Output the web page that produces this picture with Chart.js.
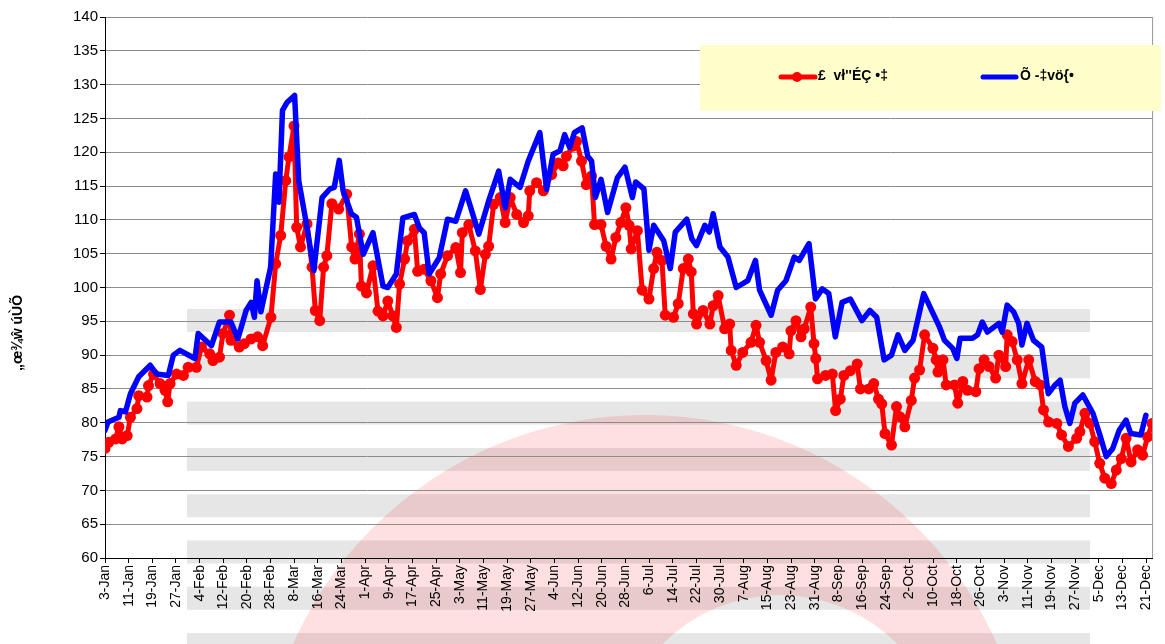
<!DOCTYPE html>
<html>
<head>
<meta charset="utf-8">
<script src="https://cdn.jsdelivr.net/npm/chart.js@4.4.0/dist/chart.umd.min.js"></script>
<style>
  html, body { margin: 0; padding: 0; background: #fff; }
  #wrap { width: 1165px; height: 644px; position: relative; }
</style>
</head>
<body>
<div id="wrap"><canvas id="priceChart"></canvas></div>
<script>
// x values are days counted from 3-Jan
const xTickLabels = ['3-Jan', '11-Jan', '19-Jan', '27-Jan', '4-Feb', '12-Feb', '20-Feb', '28-Feb', '8-Mar', '16-Mar', '24-Mar',
    '1-Apr', '9-Apr', '17-Apr', '25-Apr', '3-May', '11-May', '19-May', '27-May', '4-Jun', '12-Jun', '20-Jun', '28-Jun',
    '6-Jul', '14-Jul', '22-Jul', '30-Jul', '7-Aug', '15-Aug', '23-Aug', '31-Aug', '8-Sep', '16-Sep', '24-Sep',
    '2-Oct', '10-Oct', '18-Oct', '26-Oct', '3-Nov', '11-Nov', '19-Nov', '27-Nov', '5-Dec', '13-Dec', '21-Dec'];
const tickStepDays = 8;

const seriesNames = ['£  vł\'\'ÉÇ •‡', 'Õ -‡vö{•'];
const yTitle = '„œ¾ŵ úÙÕ';

const redDays = [0, 1.3, 3.6, 4.7, 5.8, 7.5, 8.6, 10.8, 11.4, 14.2,
    14.7, 16.4, 18.6, 20.3, 21.2, 22, 24.2, 26.5, 28.1, 30.9,
    32.6, 35.4, 36.5, 38.7, 39.9, 42.1, 42.6, 45.4, 47.1, 49.4,
    51.6, 53.3, 56.1, 57.7, 59.4, 61.1, 62.2, 63.9, 64.8, 66.1,
    68.3, 70, 71.1, 72.6, 73.9, 75, 76.7, 79, 81.7, 83.4,
    84.5, 86, 86.7, 88.4, 90.6, 92.3, 94, 95.6, 97.3, 98.5,
    99.6, 101.3, 102.3, 104.6, 105.7, 107.9, 110.2, 112.4, 113.5, 115.8,
    118.6, 120.2, 120.8, 123, 125.2, 126.9, 128.6, 129.7, 131.4, 133.6,
    135.3, 137, 139.2, 141.5, 143.1, 143.6, 145.9, 148.2, 151, 153.2,
    154.9, 156, 158.2, 159.4, 161.1, 162.7, 164.5, 165.5, 167.7, 169.4,
    171.1, 172.7, 174.4, 176.1, 177.2, 177.9, 180, 181.6, 183.9, 185.5,
    186.6, 188.3, 189.4, 192.2, 193.8, 195.5, 197.2, 198.2, 198.9, 200,
    202.2, 204.5, 205.6, 207.3, 209.5, 211.2, 211.7, 213.4, 215.6, 218.4,
    220.1, 221.3, 223.5, 225.2, 226.8, 229.1, 231.3, 231.9, 233.6, 235.3,
    236.4, 238.6, 239.7, 240.3, 240.9, 243.6, 245.9, 247, 248.6, 249.8,
    252, 254.3, 255.4, 258.2, 259.9, 261.5, 262.6, 263.7, 265.9, 267.6,
    268.7, 270.4, 272.6, 273.7, 275.4, 277.1, 279.9, 281, 281.6, 283.3,
    284.4, 287.2, 288.3, 290, 291.6, 294.4, 295.5, 297.2, 298.9, 301.1,
    302.2, 304.5, 305, 306.7, 308.4, 310, 312.3, 314.5, 316.2, 317.3,
    319, 321.8, 323.4, 325.7, 328.5, 329.6, 331.3, 333, 334.6, 336.3,
    338, 340.2, 341.9, 343.6, 345.2, 346.9, 349.1, 350.8, 352.5, 354];
const redValues = [76.2, 77.1, 77.6, 79.4, 77.6, 78.1, 80.8, 82.1, 84.0, 83.8,
    85.5, 87.2, 85.8, 84.8, 83.1, 85.8, 87.2, 87.0, 88.2, 88.2,
    91.2, 90.2, 89.2, 89.7, 93.2, 95.9, 92.2, 91.2, 91.7, 92.4,
    92.7, 91.4, 95.6, 103.5, 107.7, 115.8, 119.3, 123.9, 108.9, 106.0,
    109.4, 103.0, 96.6, 95.1, 103.0, 104.7, 112.4, 111.6, 113.8, 106.0,
    104.2, 107.9, 100.2, 99.2, 103.2, 96.5, 95.8, 98.0, 95.8, 94.1,
    100.5, 104.2, 106.9, 108.6, 102.4, 102.7, 101.0, 98.5, 102.0, 104.7,
    105.9, 102.2, 108.1, 109.3, 105.4, 99.7, 104.9, 106.1, 112.3, 113.3,
    109.6, 113.3, 110.8, 109.6, 110.6, 114.3, 115.5, 114.3, 116.7, 118.4,
    118.0, 119.4, 120.9, 121.6, 118.7, 115.2, 116.5, 109.3, 109.3, 106.1,
    104.2, 107.4, 109.6, 111.8, 109.2, 105.7, 108.4, 99.6, 98.3, 102.8,
    105.2, 104.0, 95.9, 95.6, 97.6, 102.8, 104.2, 102.3, 96.1, 94.6,
    96.6, 94.6, 97.3, 98.8, 93.9, 94.6, 90.7, 88.5, 90.4, 91.9,
    94.4, 91.9, 89.2, 86.3, 90.4, 91.2, 90.2, 93.6, 95.1, 92.7,
    93.9, 97.1, 91.7, 89.5, 86.5, 87.0, 87.2, 81.8, 83.5, 87.0,
    87.7, 88.7, 85.0, 85.0, 85.8, 83.5, 82.8, 78.4, 76.7, 82.4,
    80.9, 79.4, 83.3, 86.6, 87.8, 93.0, 91.0, 89.3, 87.5, 89.3,
    85.6, 85.6, 82.9, 86.1, 84.8, 84.6, 88.0, 89.3, 88.3, 86.6,
    90.0, 88.3, 93.0, 92.0, 89.3, 85.8, 89.3, 86.1, 85.6, 81.9,
    80.1, 79.9, 78.2, 76.5, 77.7, 78.7, 81.4, 79.9, 77.2, 74.0,
    71.8, 71.0, 73.0, 74.7, 77.7, 74.2, 76.0, 75.2, 77.9, 79.9];

const blueDays = [0, 1, 4.7, 5.2, 6.9, 8.6, 11.4, 15.3, 17.5, 21.4,
    23.1, 25.3, 30.4, 31.5, 36, 38.7, 42.6, 44.9, 47.7, 49.4,
    50.5, 51.4, 52.7, 56, 57.7, 58.8, 60, 61.6, 64.1, 65.5,
    68.3, 70.6, 73.4, 76.1, 77.5, 79.2, 80.5, 83.3, 85, 87.3,
    90.6, 94, 95.6, 98.5, 100.7, 104.6, 106.3, 107.9, 109.6, 113,
    115.8, 118.6, 121.9, 126.4, 129.7, 133.1, 135.3, 137, 140.3, 143.1,
    147, 149.3, 151.5, 153.8, 155.4, 157.1, 158.7, 161.3, 163.2, 164.5,
    165.8, 167.7, 169.9, 173.2, 175.8, 178.3, 179.4, 182.2, 183.9, 185.5,
    188.9, 191.1, 192.8, 196.7, 198.4, 200, 202.8, 204.3, 205.6, 207.9,
    210.6, 213.4, 217.3, 219.9, 221.3, 225.2, 227.4, 230.2, 233, 234.7,
    238, 240.2, 242.5, 244.7, 246.9, 249.2, 252, 255.9, 258.6, 260.9,
    263.4, 265.9, 268.1, 270.4, 273.2, 276.8, 279.9, 282.1, 283.8, 286.6,
    288, 289.1, 293.3, 295, 296.6, 298.3, 302.2, 303.3, 305, 307.2,
    308.9, 310, 311.7, 313.9, 316.7, 318.9, 321.2, 322.9, 324.5, 326.2,
    327.9, 330.6, 334, 336.2, 338.5, 340.7, 342.9, 345.2, 346.8, 350.2,
    351.9];
const blueValues = [78.9, 80.1, 80.8, 81.8, 81.6, 84.3, 86.8, 88.5, 87.2, 87.0,
    90.0, 90.7, 89.5, 93.2, 91.4, 94.9, 94.9, 92.4, 96.6, 97.8,
    95.6, 101.0, 96.4, 103.0, 116.8, 112.6, 126.2, 127.4, 128.4, 115.8,
    108.9, 102.5, 113.3, 114.6, 114.8, 118.8, 114.3, 110.9, 110.4, 104.9,
    108.1, 100.2, 100.0, 102.0, 110.3, 110.8, 108.8, 108.1, 102.0, 104.4,
    110.1, 109.8, 114.3, 107.9, 112.8, 117.2, 111.8, 116.0, 114.8, 118.7,
    122.9, 114.5, 119.7, 120.2, 122.6, 120.7, 122.9, 123.6, 119.4, 118.7,
    113.3, 116.0, 111.1, 116.2, 117.8, 113.3, 115.6, 114.6, 105.5, 109.2,
    106.9, 102.8, 108.2, 110.1, 107.2, 106.2, 109.2, 108.2, 110.9, 106.0,
    104.5, 100.0, 101.0, 104.0, 99.6, 95.9, 99.6, 101.0, 104.5, 104.0,
    106.5, 98.3, 99.8, 99.1, 92.7, 97.8, 98.3, 95.1, 96.6, 95.6,
    89.3, 90.0, 93.0, 90.7, 92.2, 99.1, 96.2, 94.2, 92.2, 91.0,
    89.5, 92.5, 92.5, 93.0, 94.9, 93.4, 94.7, 93.4, 97.4, 96.4,
    94.7, 91.5, 94.7, 92.2, 91.2, 84.3, 85.6, 86.3, 82.4, 79.9,
    82.9, 84.1, 81.4, 78.4, 75.0, 76.2, 78.9, 80.4, 78.4, 78.2,
    81.1];

const FONT = "Arial, 'Liberation Sans', sans-serif";

// 배경 무늬 (회색 띠 + 분홍 고리)
const backdrop = {
    id: 'backdrop',
    beforeDraw(chart) {
        const ctx = chart.ctx;
        ctx.save();
        ctx.fillStyle = '#fff';
        ctx.fillRect(0, 0, chart.width, chart.height);
        ctx.fillStyle = '#e6e6e6';
        for (let y = 309; y < chart.height; y += 46.3) {
            ctx.fillRect(187, y, 903, 23);
        }
        ctx.beginPath();
        ctx.arc(645, 800, 385, 0, Math.PI * 2);
        ctx.arc(780, 760, 165, 0, Math.PI * 2, true);
        ctx.fillStyle = 'rgba(255, 0, 0, 0.12)';
        ctx.fill();
        ctx.restore();
    },
};

// 범례 상자, 축 제목, 오른쪽 테두리
const overlay = {
    id: 'overlay',
    afterDraw(chart) {
        const ctx = chart.ctx;
        const area = chart.chartArea;
        ctx.save();
        ctx.strokeStyle = '#999';
        ctx.lineWidth = 1;
        ctx.beginPath();
        ctx.moveTo(area.right + 0.5, area.top);
        ctx.lineTo(area.right + 0.5, area.bottom);
        ctx.stroke();

        ctx.fillStyle = '#ffffcc';
        ctx.fillRect(700, 45, 461, 66);

        ctx.lineCap = 'round';
        ctx.lineWidth = 5;
        ctx.strokeStyle = '#ff0000';
        ctx.beginPath();
        ctx.moveTo(781, 77);
        ctx.lineTo(815, 77);
        ctx.stroke();
        ctx.fillStyle = '#ff0000';
        ctx.beginPath();
        ctx.arc(797, 77, 5, 0, Math.PI * 2);
        ctx.fill();
        ctx.strokeStyle = '#0000ff';
        ctx.beginPath();
        ctx.moveTo(983, 77);
        ctx.lineTo(1016, 77);
        ctx.stroke();

        ctx.fillStyle = '#000';
        ctx.font = 'bold 14px ' + FONT;
        ctx.textBaseline = 'middle';
        ctx.textAlign = 'left';
        ctx.fillText(seriesNames[0], 818, 76);
        ctx.fillText(seriesNames[1], 1020, 76);

        ctx.translate(18, 333);
        ctx.rotate(-Math.PI / 2);
        ctx.textAlign = 'center';
        ctx.font = 'bold 14px ' + FONT;
        ctx.fillText(yTitle, 0, 0);
        ctx.restore();
    },
};

function toPoints(days, values) {
    return days.map((d, i) => ({ x: d, y: values[i] }));
}

function createChart() {
    new Chart(document.getElementById('priceChart'), {
        type: 'line',
        data: {
            datasets: [
                {
                    label: seriesNames[0],
                    data: toPoints(redDays, redValues),
                    borderColor: '#ff0000',
                    backgroundColor: '#ff0000',
                    borderWidth: 5,
                    borderJoinStyle: 'round',
                    borderCapStyle: 'round',
                    pointRadius: 5.5,
                    pointBorderWidth: 0,
                    pointHoverRadius: 5.5,
                    tension: 0,
                    order: 1,
                },
                {
                    label: seriesNames[1],
                    data: toPoints(blueDays, blueValues),
                    borderColor: '#0000ff',
                    backgroundColor: '#0000ff',
                    borderWidth: 5.5,
                    pointRadius: 0,
                    borderJoinStyle: 'round',
                    borderCapStyle: 'round',
                    tension: 0,
                    order: 0,
                },
            ],
        },
        options: {
            responsive: true,
            maintainAspectRatio: false,
            animation: false,
            devicePixelRatio: 1,
            layout: { padding: { left: 0, right: 2, top: 17, bottom: 0 } },
            plugins: {
                legend: { display: false },
                tooltip: { enabled: false },
            },
            scales: {
                x: {
                    type: 'linear',
                    min: 0,
                    max: 354,
                    afterBuildTicks: (s) => {
                        s.ticks = xTickLabels.map((_, i) => ({ value: i * tickStepDays }));
                    },
                    afterFit: (s) => { s.height = 86; },
                    ticks: {
                        autoSkip: false,
                        minRotation: 90,
                        maxRotation: 90,
                        padding: 2,
                        color: '#000',
                        font: { family: FONT, size: 14 },
                        callback: (v) => xTickLabels[Math.round(v / tickStepDays)],
                    },
                    grid: { drawOnChartArea: false, tickLength: 5, color: '#000' },
                    border: { color: '#000', width: 1 },
                },
                y: {
                    min: 60,
                    max: 140,
                    afterFit: (s) => { s.width = 105; },
                    ticks: {
                        stepSize: 5,
                        padding: 2,
                        color: '#000',
                        font: { family: FONT, size: 15 },
                    },
                    grid: { color: '#8c8c8c', tickColor: '#000', tickLength: 5 },
                    border: { color: '#000', width: 1 },
                },
            },
        },
        plugins: [backdrop, overlay],
    });
}

createChart();
</script>
</body>
</html>
